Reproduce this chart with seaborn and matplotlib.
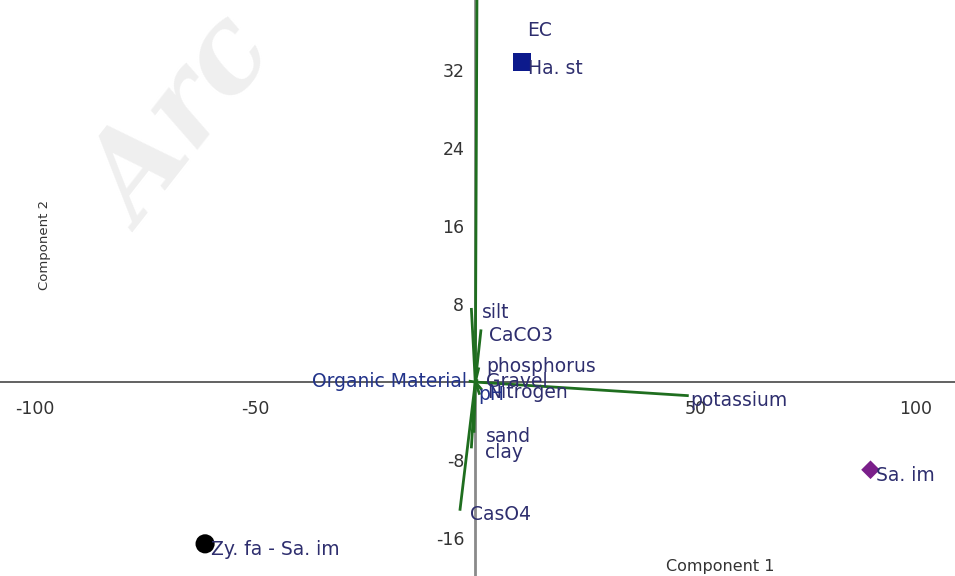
import matplotlib
matplotlib.use("Agg")
import matplotlib.pyplot as plt
import seaborn as sns
import pandas as pd

# ---------------------------------------------------------------------------
# Data
# ---------------------------------------------------------------------------
groups = ["Ha. st", "Sa. im", "Zy. fa - Sa. im"]
group_x = [10.7, 89.8, -61.4]
group_y = [32.8, -9.0, -16.6]

variables = ["EC", "silt", "CaCO3", "phosphorus", "Gravel", "Organic Material",
             "Nitrogen", "pH", "potassium", "sand", "clay", "CasO4"]
var_x = [0.4, -0.9, 1.3, 0.8, 0.5, -1.5, 1.5, 1.0, 48.5, -0.3, -0.9, -3.5]
var_y = [42.0, 7.6, 5.4, 1.5, 0.3, 0.1, -0.8, -1.3, -1.4, -5.2, -6.8, -13.2]

x_ticks = [-100, -50, 50, 100]
y_ticks = [-16, -8, 8, 16, 24, 32]

# label anchors (layout only)
var_label_pos = {
    "EC": (11.8, 36.1), "silt": (1.6, 7.1), "CaCO3": (3.0, 4.8),
    "phosphorus": (2.5, 1.6), "Gravel": (2.5, 0.1),
    "Organic Material": (-1.8, 0.1), "Nitrogen": (2.7, -1.1),
    "pH": (0.7, -1.3), "potassium": (48.9, -1.9), "sand": (2.5, -5.6),
    "clay": (2.3, -7.2), "CasO4": (-1.1, -13.6),
}
group_label_off = (1.3, -0.6)

sns.set_style("white")
plt.rcParams["font.family"] = ["DejaVu Sans"]
plt.rcParams["axes.unicode_minus"] = False

fig = plt.figure(figsize=(9.55, 5.76), dpi=100)
ax = fig.add_axes([0, 0, 1, 1])
ax.set_xlim(-108, 109)
ax.set_ylim(-19.9, 39.2)

# watermark
ax.text(-66, 26.4, "Arc", fontsize=84, fontstyle="italic", fontweight="bold",
        family="DejaVu Serif", color="#efefef", rotation=52,
        ha="center", va="center", zorder=0)

# axes through the origin
for side in ["top", "right"]:
    ax.spines[side].set_visible(False)
ax.spines["left"].set_position(("data", 0))
ax.spines["bottom"].set_position(("data", 0))
ax.spines["left"].set_color("#8a8a8a")
ax.spines["bottom"].set_color("#555555")
ax.spines["left"].set_linewidth(2)
ax.spines["bottom"].set_linewidth(1.3)
ax.set_xticks(x_ticks)
ax.set_yticks(y_ticks)
ax.tick_params(axis="both", direction="out", length=6, width=1.2,
               color="#555555", labelcolor="#333333", labelsize=12.5)
ax.tick_params(axis="x", pad=7)
ax.tick_params(axis="y", pad=2)

# variable vectors
for vx, vy in zip(var_x, var_y):
    ax.plot([0, vx], [0, vy], color="#1f6e1f", lw=2, zorder=3,
            solid_capstyle="butt")

for name in variables:
    lx, ly = var_label_pos[name]
    ha = "right" if name == "Organic Material" else "left"
    col = "#22338a" if name in ("Organic Material", "pH") else "#2e2e6e"
    ax.text(lx, ly, name, fontsize=13.5, color=col, ha=ha, va="center", zorder=4)

# group scores
pts = pd.DataFrame({"group": groups, "x": group_x, "y": group_y})
sns.scatterplot(data=pts, x="x", y="y", hue="group", style="group", size="group",
                palette={"Ha. st": "#0c1a8c", "Sa. im": "#7a1f8a",
                         "Zy. fa - Sa. im": "#000000"},
                markers={"Ha. st": "s", "Sa. im": "D", "Zy. fa - Sa. im": "o"},
                sizes={"Ha. st": 170, "Sa. im": 90, "Zy. fa - Sa. im": 190},
                edgecolor="none", legend=False, ax=ax, zorder=5)
for g, gx, gy in zip(groups, group_x, group_y):
    ax.text(gx + group_label_off[0], gy + group_label_off[1], g, fontsize=13.5,
            color="#2e2e6e", ha="left", va="center", zorder=6)
ax.set_xlabel("")
ax.set_ylabel("")

fig.text(0.754, 0.017, "Component 1", fontsize=11.5, color="#333333",
         ha="center", va="center")
fig.text(0.047, 0.575, "Component 2", fontsize=9.5, color="#333333",
         rotation=90, ha="center", va="center")

fig.savefig("out.png", dpi=100)
